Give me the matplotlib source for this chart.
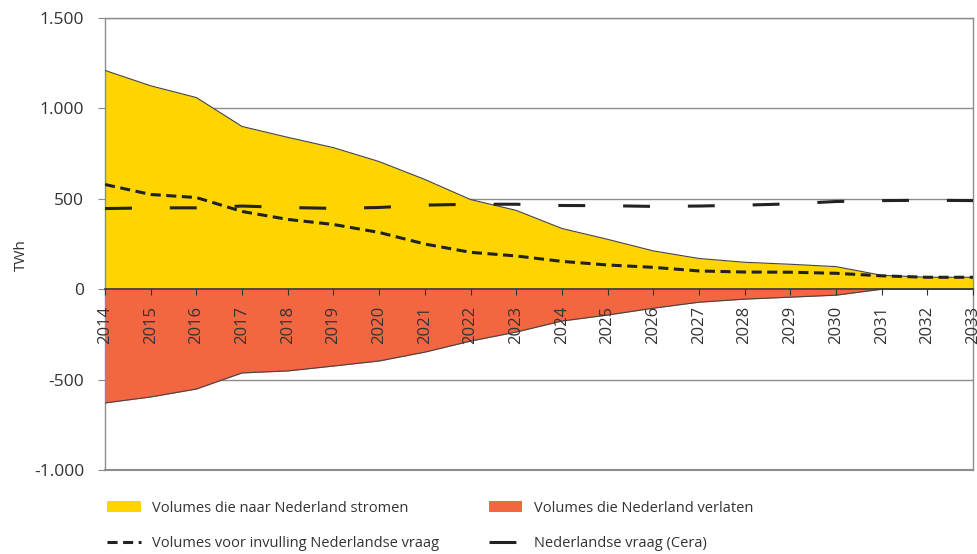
import numpy as np
import matplotlib
matplotlib.use("Agg")
from matplotlib import pyplot as plt
from matplotlib.patches import Patch
from matplotlib.lines import Line2D

plt.rcParams['font.family'] = ['Open Sans', 'DejaVu Sans']

years = list(range(2014, 2034))
inflow = [1210, 1125, 1060, 900, 840, 783, 706, 607, 496, 436, 336, 276, 212, 170, 149, 138, 125, 77, 66, 66]
outflow = [-629, -596, -552, -463, -452, -425, -397, -348, -287, -237, -176, -143, -105, -72, -55, -44, -33, 0, 0, 0]
nl_supply = [579, 524, 507, 430, 386, 358, 314, 250, 204, 184, 154, 134, 121, 101, 95, 94, 88, 74, 66, 66]
nl_demand = [446, 450, 450, 460, 452, 447, 452, 465, 470, 470, 463, 462, 458, 460, 465, 472, 485, 490, 492, 490]
yticks = [-1000, -500, 0, 500, 1000, 1500]
ytick_labels = ['-1.000', '-500', '0', '500', '1.000', '1.500']

yellow = '#FFD500'
red = '#F26642'
grey = '#8c8c8c'
txt = '#333333'

fig = plt.figure(figsize=(9.78, 5.54), dpi=100)
ax = fig.add_axes([0.1074, 0.1516, 0.8875, 0.8159])

# grid drawn by hand so the tick labels can stay on top of the fills
for g in [500, 1000, 1500, -500]:
    ax.axhline(g, color=grey, lw=1, zorder=0.5)

ax.fill_between(years, 0, inflow, color=yellow, lw=0, zorder=2)
ax.plot(years, inflow, color='#444444', lw=0.8, zorder=3)
ax.fill_between(years, 0, outflow, color=red, lw=0, zorder=2)
ax.plot(years, outflow, color='#444444', lw=0.8, zorder=3)

ax.plot(years, nl_supply, color='#222222', lw=2.2, dashes=(3.3, 1.8), zorder=4)
ax.plot(years, nl_demand, color='#222222', lw=2.2, dashes=(8.8, 12.4), zorder=4)

ax.set_xlim(2014, 2033)
ax.set_ylim(-1000, 1500)
ax.set_yticks(yticks)
ax.set_yticklabels(ytick_labels)
ax.set_axisbelow(False)
ax.xaxis.set_zorder(6)

for s in ['left', 'right', 'top']:
    ax.spines[s].set_color(grey)
    ax.spines[s].set_linewidth(1)
ax.spines['bottom'].set_position(('data', 0))
ax.spines['bottom'].set_color('#333333')
ax.spines['bottom'].set_linewidth(1.2)
ax.spines['bottom'].set_zorder(5)
ax.axhline(-1000, color=grey, lw=1.5, clip_on=False)

ax.set_xticks(years)
ax.set_xticklabels([str(y) for y in years], rotation=90, va='top')
ax.tick_params(axis='x', direction='out', length=4, color='#333333', pad=8,
               labelsize=12, labelcolor=txt)
ax.tick_params(axis='y', length=5, color=grey, labelsize=12.5, labelcolor=txt, pad=10)

ax.set_ylabel('TWh', color=txt, fontsize=11)
ax.yaxis.set_label_coords(-0.088, 0.476)

handles = [
    Patch(facecolor=yellow, edgecolor='none', label='Volumes die naar Nederland stromen'),
    Patch(facecolor=red, edgecolor='none', label='Volumes die Nederland verlaten'),
    Line2D([], [], color='#222222', lw=2.2, dashes=(3.3, 1.8), label='Volumes voor invulling Nederlandse vraag'),
    Line2D([], [], color='#222222', lw=2.2, dashes=(8.8, 12.4), label='Nederlandse vraag (Cera)'),
]
order = [0, 2, 1, 3]
leg = fig.legend([handles[i] for i in order], [handles[i].get_label() for i in order],
                 ncol=2, loc='upper left', bbox_to_anchor=(0.096, 0.12),
                 frameon=False, fontsize=10.5, handlelength=2.3, handleheight=0.7,
                 handletextpad=0.8, columnspacing=3.4, labelspacing=1.4)
for t in leg.get_texts():
    t.set_color(txt)

fig.savefig('out.png', dpi=100)
